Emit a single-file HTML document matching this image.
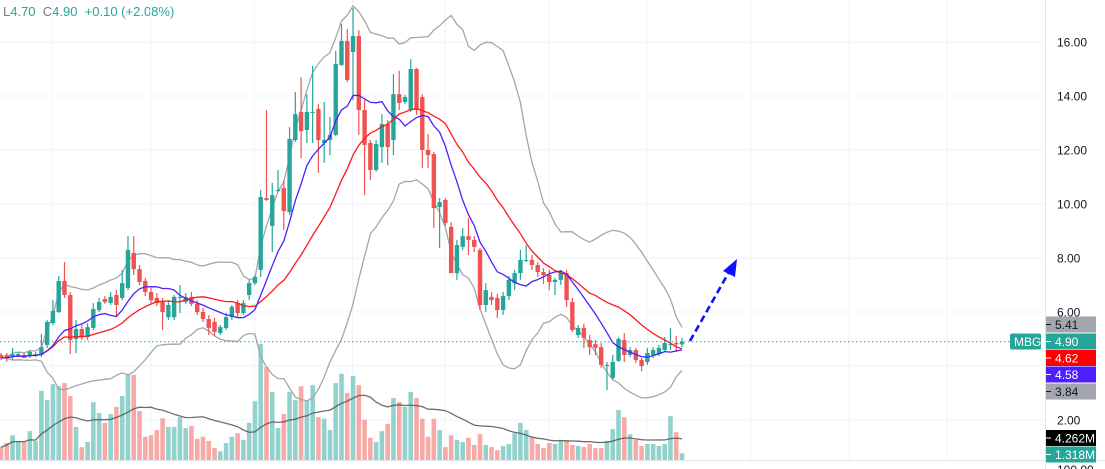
<!DOCTYPE html>
<html><head><meta charset="utf-8">
<style>
html,body{margin:0;padding:0;background:#fff;}
body{width:1105px;height:469px;overflow:hidden;position:relative;font-family:"Liberation Sans",sans-serif;}
#hdr{position:absolute;left:3px;top:4px;font-size:13px;color:#26a69a;white-space:nowrap;}
#hdr .k{color:#787b86;}
svg{position:absolute;left:0;top:0;}
</style></head>
<body>
<div id="hdr"><span class="k">L</span>4.70 &nbsp;<span class="k">C</span>4.90 &nbsp;+0.10 (+2.08%)</div>
<svg id="chart" width="1105" height="469"></svg>
<script>
const opens=[4.41,4.41,4.37,4.37,4.41,4.37,4.37,4.41,4.78,5.59,6.00,7.15,6.63,5.00,5.37,5.07,5.41,6.07,6.48,6.33,6.63,6.52,6.89,8.19,7.59,7.15,6.74,6.52,6.37,5.81,5.81,6.52,6.37,6.56,6.30,6.00,5.74,5.63,5.22,5.41,5.81,6.33,5.96,6.63,7.07,7.56,10.22,9.19,10.48,10.59,9.70,12.37,13.41,12.74,13.37,13.52,12.26,12.37,12.56,15.15,16.04,15.63,16.22,13.48,12.26,11.26,12.11,12.96,12.37,14.07,13.78,13.48,15.00,13.96,12.00,11.85,9.89,10.15,9.15,7.44,8.41,8.81,8.67,8.30,6.26,6.56,6.52,6.07,6.59,7.07,7.44,7.89,7.93,7.74,7.48,7.37,7.11,7.19,7.44,6.37,5.15,5.41,4.96,4.81,4.70,4.00,3.56,4.19,4.96,4.41,4.59,4.22,4.15,4.41,4.44,4.59,4.78,4.85,4.80];
const highs=[4.48,4.48,4.67,4.52,4.48,4.59,4.52,5.19,5.70,6.44,7.33,7.85,6.74,5.70,5.52,5.59,6.33,6.52,6.59,6.74,6.81,7.56,8.81,8.81,7.74,7.26,6.89,6.70,6.52,6.44,6.63,7.00,6.70,6.74,6.44,6.15,5.89,5.78,5.52,5.96,6.26,6.44,6.44,7.19,7.37,10.52,13.48,10.78,11.26,10.89,12.85,14.15,14.70,14.07,15.11,13.70,13.78,13.22,15.67,16.67,16.48,17.26,16.44,13.85,12.37,12.37,13.33,13.11,14.81,14.93,14.04,15.37,15.04,14.07,12.59,11.93,10.22,10.22,9.33,8.67,9.11,9.48,8.81,8.37,7.07,6.74,6.67,6.74,7.33,7.56,8.30,8.48,8.11,7.85,7.63,7.56,7.26,7.56,7.56,6.52,5.52,5.56,5.15,4.96,4.85,4.15,4.41,5.07,5.22,4.70,4.67,4.30,4.67,4.70,4.78,5.07,5.41,5.11,5.04];
const lows=[4.22,4.15,4.22,4.33,4.30,4.30,4.33,4.33,4.67,5.52,5.96,6.52,4.44,4.48,4.96,4.96,5.33,6.00,6.30,6.26,5.85,6.44,6.81,7.37,7.00,6.59,6.33,6.22,5.33,5.70,5.70,5.96,6.30,6.22,5.89,5.63,5.15,5.11,5.15,5.33,5.70,5.78,5.89,6.44,7.00,7.30,10.11,8.22,10.44,9.04,9.59,12.30,11.70,12.26,12.26,11.15,11.52,11.81,12.52,15.11,14.52,13.85,12.56,10.33,10.89,11.19,11.52,11.44,11.81,13.48,13.70,13.41,13.30,11.33,11.33,9.11,8.37,9.19,7.44,7.19,8.30,8.11,8.22,6.07,6.00,6.26,5.78,5.89,6.44,6.81,7.19,7.85,7.56,7.30,7.04,6.81,6.63,7.00,6.19,5.26,5.04,4.67,4.41,4.41,3.93,3.11,3.48,4.15,4.15,4.33,4.11,3.81,4.04,4.30,4.37,4.52,4.59,4.52,4.70];
const closes=[4.30,4.30,4.44,4.44,4.30,4.52,4.44,4.70,5.63,6.04,7.15,6.63,4.96,5.37,5.07,5.44,6.11,6.37,6.37,6.56,6.26,7.07,8.30,7.59,7.11,6.74,6.44,6.33,6.00,6.26,6.56,6.56,6.56,6.30,6.00,5.74,5.41,5.26,5.44,5.81,6.19,5.96,6.33,7.07,7.30,10.26,10.15,10.33,10.52,9.74,12.41,13.33,12.70,13.41,13.41,12.37,12.37,12.56,15.19,16.04,14.59,16.22,13.48,12.19,11.26,12.22,12.96,12.11,14.07,13.74,13.96,15.00,13.48,12.00,11.81,9.85,10.07,9.30,7.44,8.48,8.81,8.67,8.41,6.26,6.81,6.44,6.07,6.59,7.19,7.44,7.93,7.93,7.74,7.48,7.37,7.11,7.19,7.44,6.44,5.33,5.41,5.04,4.70,4.67,4.04,4.04,4.15,5.00,4.41,4.59,4.22,4.00,4.48,4.59,4.67,4.85,4.81,4.80,4.90];
const volumes=[2.5,3.3,4.8,3.7,3.5,5.6,3.7,13.4,11.6,14.7,14.3,14.9,12.4,6.4,2.5,3.5,11.2,9.1,7.2,8.9,10.3,12.4,16.5,16.5,9.5,4.5,4.8,5.8,8.1,6.4,6.4,8.3,6.2,6.6,4.1,4.5,3.7,2.3,1.7,3.3,4.5,5.2,3.9,7.2,11.4,
22.5,18,13.2,6.2,8.9,13.2,11.6,14.3,11.6,14.5,8.3,8,5.8,14.9,16.7,13,16.3,14.5,7.8,4.3,3.5,5.6,7,12,11.2,10.3,13.2,12,8,4.5,8,5.8,2.5,4.8,3.9,3.5,4.3,2.9,5,2.9,2.5,1.9,2.7,3.1,5.2,7.2,5.8,4.5,3.1,2.3,3.3,3.1,3.7,3.7,2.9,2.7,2.5,3.1,2.3,2.3,3.7,6,9.7,8.3,5,3.9,2.7,3.1,3.1,2.7,3.1,8.5,5.4,1.318];
const priceTicks=[16,14,12,10,8,6,4,2];
const priceTickLabels=["16.00","14.00","12.00","10.00","8.00","6.00","","2.00"];
const vGridDates=[9,26,44,61,77,95,112,130,147,164];

const NS="http://www.w3.org/2000/svg";
const svg=document.getElementById('chart');
const N=closes.length;
const X0=1, STEP=(682-1)/(N-1);
function xAt(i){return X0+i*STEP;}
function yP(p){return 474-27*p;}
function yV(v){return 460-5.16*v;}
function mk(tag,attrs,parent){const e=document.createElementNS(NS,tag);for(const k in attrs)e.setAttribute(k,attrs[k]);(parent||svg).appendChild(e);return e;}

// grid
const grid=mk('g',{});


priceTicks.forEach(p=>{const l=mk('line',{x1:0,x2:1045,y1:yP(p),y2:yP(p),stroke:'#f0f3fa','stroke-width':1},grid);

});
vGridDates.forEach(d=>{const x=xAt(d)-0.5;const l=mk('line',{x1:x,x2:x,y1:0,y2:460,stroke:'#f0f3fa','stroke-width':1},grid);

});
const sep=mk('line',{x1:0,x2:1105,y1:460.5,y2:460.5,stroke:'#e0e3eb','stroke-width':1});


const ax=mk('line',{x1:1045.5,x2:1045.5,y1:0,y2:469,stroke:'#e0e3eb','stroke-width':1});



// indicators
function sma(arr,n){return arr.map((_,i)=>{const s=Math.max(0,i-n+1);const w=arr.slice(s,i+1);return w.reduce((a,b)=>a+b,0)/w.length;});}
function sd(arr,n){const m=sma(arr,n);return arr.map((_,i)=>{const s=Math.max(0,i-n+1);const w=arr.slice(s,i+1);return Math.sqrt(w.reduce((a,b)=>a+(b-m[i])**2,0)/w.length);});}
const basis=sma(closes,20), dev=sd(closes,20);
const upper=basis.map((b,i)=>b+2*dev[i]), lower=basis.map((b,i)=>b-2*dev[i]);
const fast=sma(closes,9);
const volMA=sma(volumes,20);
function path(vals,yf){return vals.map((v,i)=>(i?'L':'M')+xAt(i).toFixed(1)+' '+yf(v).toFixed(1)).join(' ');}

// volume bars
const vg=mk('g',{});


volumes.forEach((v,i)=>{const up=closes[i]>=opens[i];
const r=mk('rect',{x:xAt(i)-2.3,y:yV(v),width:4.6,height:460-yV(v),fill:up?'#92d2cc':'#f7a9a7'},vg);

});
const vma=mk('path',{d:path(volMA,yV),fill:'none',stroke:'#555','stroke-width':1.3,opacity:0.85});



// bands
const ub=mk('path',{d:path(upper,yP),fill:'none',stroke:'#a3a6ad','stroke-width':1.3});


const lb=mk('path',{d:path(lower,yP),fill:'none',stroke:'#a3a6ad','stroke-width':1.3});



// candles
const cg=mk('g',{});


closes.forEach((c,i)=>{const o=opens[i],up=c>=o,col=up?'#26a69a':'#ef5350',x=xAt(i);
const g=mk('g',{},cg);


mk('line',{x1:x,x2:x,y1:yP(highs[i]),y2:yP(lows[i]),stroke:col,'stroke-width':1.2},g);
const top=yP(Math.max(o,c)),bot=yP(Math.min(o,c));
mk('rect',{x:x-2.2,y:top,width:4.4,height:Math.max(1,bot-top),fill:col},g);});

const bl=mk('path',{d:path(basis,yP),fill:'none',stroke:'#ff1a1a','stroke-width':1.3});


const fl=mk('path',{d:path(fast,yP),fill:'none',stroke:'#4d1fff','stroke-width':1.3});



// last price dotted line
const lastY=yP(closes[N-1]);
const dl=mk('line',{x1:0,x2:1010,y1:lastY,y2:lastY,stroke:'#26a69a','stroke-width':1,'stroke-dasharray':'1.5 2.5'});



// arrow
const ar=mk('line',{x1:690,y1:341,x2:729,y2:272,stroke:'#1010ff','stroke-width':2.6,'stroke-dasharray':'7 4'});


const ah=mk('polygon',{points:'737,259 723,271 735,277',fill:'#1010ff'});



// axis labels
priceTicks.forEach((p,i)=>{if(!priceTickLabels[i])return;
const t=mk('text',{x:1057,y:yP(p)+4.5,'font-size':12,fill:'#131722','font-family':'Liberation Sans, sans-serif'});
t.textContent=priceTickLabels[i];

});
const t100=mk('text',{x:1057,y:474,'font-size':12,fill:'#131722'});
t100.textContent='100.00';



// tags
function tag(name,label,yc,bg,fg){const g=mk('g',{});


mk('rect',{x:1046,y:yc-8,width:50,height:16,fill:bg},g);
mk('line',{x1:1046,x2:1051,y1:yc,y2:yc,stroke:fg,'stroke-width':1},g);
const t=mk('text',{x:1055,y:yc+4.5,'font-size':12,fill:fg},g);t.textContent=label;}
tag('upper-band-tag','5.41',324.5,'#a3a6ad','#131722');
tag('last-price-tag','4.90',341.5,'#26a69a','#fff');
tag('basis-tag','4.62',358,'#ff0000','#fff');
tag('fast-ma-tag','4.58',374.5,'#4d1fff','#fff');
tag('lower-band-tag','3.84',391.5,'#a3a6ad','#131722');
tag('volume-ma-tag','4.262M',438,'#000','#fff');
tag('volume-tag','1.318M',454.5,'#26a69a','#fff');
const sym=mk('g',{});


mk('rect',{x:1010,y:333.5,width:31,height:16,rx:2,fill:'#26a69a'},sym);
const st=mk('text',{x:1014,y:346,'font-size':12,fill:'#fff'},sym);st.textContent='MBG';
</script>
</body></html>
